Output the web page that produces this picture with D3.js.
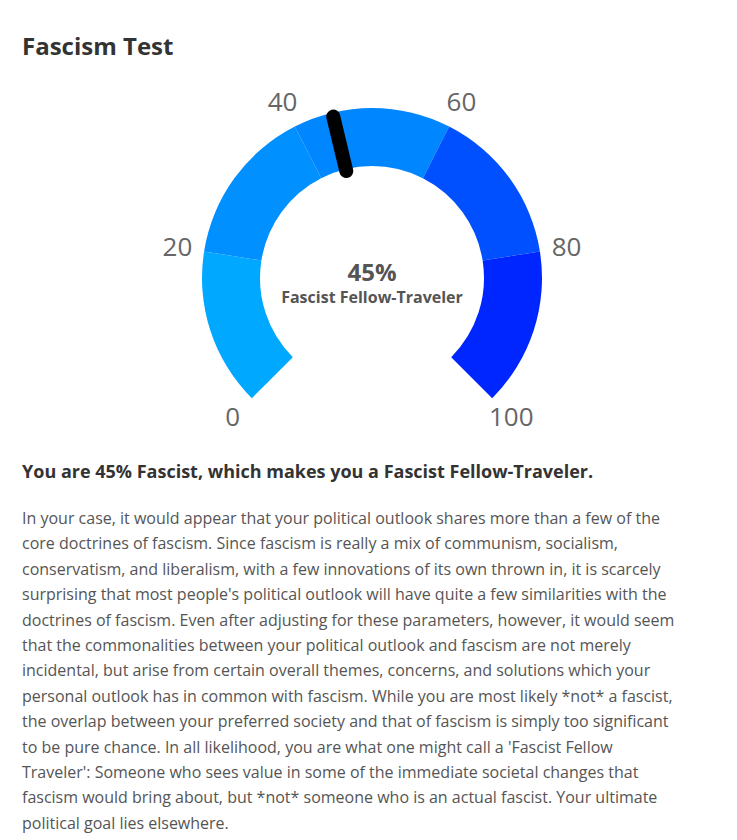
<!DOCTYPE html>
<html><head><meta charset="utf-8">
<script src="https://cdn.jsdelivr.net/npm/d3@7"></script>
<style>body{margin:0;background:#fff;font-family:"Open Sans",sans-serif;}</style>
</head><body><div id="chart"></div>
<script>
var bandStarts = [0, 20, 40, 60, 80];
var bandEnds = [20, 40, 60, 80, 100];
var bandColors = ["#00a8ff", "#0090ff", "#0086ff", "#0050ff", "#0026ff"];
var tickValues = [0, 20, 40, 60, 80, 100];
var score = 45;
var scoreLabel = "Fascist Fellow-Traveler";
var paragraph = [
  "In your case, it would appear that your political outlook shares more than a few of the",
  "core doctrines of fascism. Since fascism is really a mix of communism, socialism,",
  "conservatism, and liberalism, with a few innovations of its own thrown in, it is scarcely",
  "surprising that most people's political outlook will have quite a few similarities with the",
  "doctrines of fascism. Even after adjusting for these parameters, however, it would seem",
  "that the commonalities between your political outlook and fascism are not merely",
  "incidental, but arise from certain overall themes, concerns, and solutions which your",
  "personal outlook has in common with fascism. While you are most likely *not* a fascist,",
  "the overlap between your preferred society and that of fascism is simply too significant",
  "to be pure chance. In all likelihood, you are what one might call a 'Fascist Fellow",
  "Traveler': Someone who sees value in some of the immediate societal changes that",
  "fascism would bring about, but *not* someone who is an actual fascist. Your ultimate",
  "political goal lies elsewhere."
];

var w = 737, h = 840;
var cx = 372, cy = 278, R = 170, r = 112;
var svg = d3.select("#chart").append("svg").attr("width", w).attr("height", h);

svg.append("text").attr("x", 22).attr("y", 55).attr("font-size", 24).attr("font-weight", 700)
  .attr("fill", "#333").text("Fascism Test");

var angle = d3.scaleLinear().domain([0, 100]).range([-0.75 * Math.PI, 0.75 * Math.PI]);
var arc = d3.arc().innerRadius(r).outerRadius(R);
var g = svg.append("g").attr("transform", "translate(" + cx + "," + cy + ")");

g.selectAll("path.band").data(bandStarts).enter().append("path")
  .attr("d", function(d, i) { return arc({ startAngle: angle(d), endAngle: angle(bandEnds[i]) }); })
  .attr("fill", function(d, i) { return bandColors[i]; });

g.selectAll("text.tick").data(tickValues).enter().append("text")
  .attr("x", function(d) { return 197 * Math.sin(angle(d)); })
  .attr("y", function(d) { return -197 * Math.cos(angle(d)) + 9; })
  .attr("text-anchor", "middle").attr("font-size", 26).attr("fill", "#666")
  .text(function(d) { return d; });

var a = angle(score);
g.append("line")
  .attr("x1", 110 * Math.sin(a)).attr("y1", -110 * Math.cos(a))
  .attr("x2", 166 * Math.sin(a)).attr("y2", -166 * Math.cos(a))
  .attr("stroke", "#000").attr("stroke-width", 14).attr("stroke-linecap", "round");

g.append("text").attr("y", 3).attr("text-anchor", "middle").attr("font-size", 24)
  .attr("font-weight", 700).attr("fill", "#555").text(score + "%");
g.append("text").attr("y", 25).attr("text-anchor", "middle").attr("font-size", 16)
  .attr("font-weight", 700).attr("fill", "#555").text(scoreLabel);

svg.append("text").attr("x", 22).attr("y", 478).attr("font-size", 18).attr("font-weight", 700)
  .attr("fill", "#333")
  .text("You are " + score + "% Fascist, which makes you a " + scoreLabel + ".");

svg.append("g").selectAll("text").data(paragraph).enter().append("text")
  .attr("x", 22).attr("y", function(d, i) { return 524 + i * 25.4; })
  .attr("font-size", 16).attr("fill", "#555").text(function(d) { return d; });
</script></body></html>
